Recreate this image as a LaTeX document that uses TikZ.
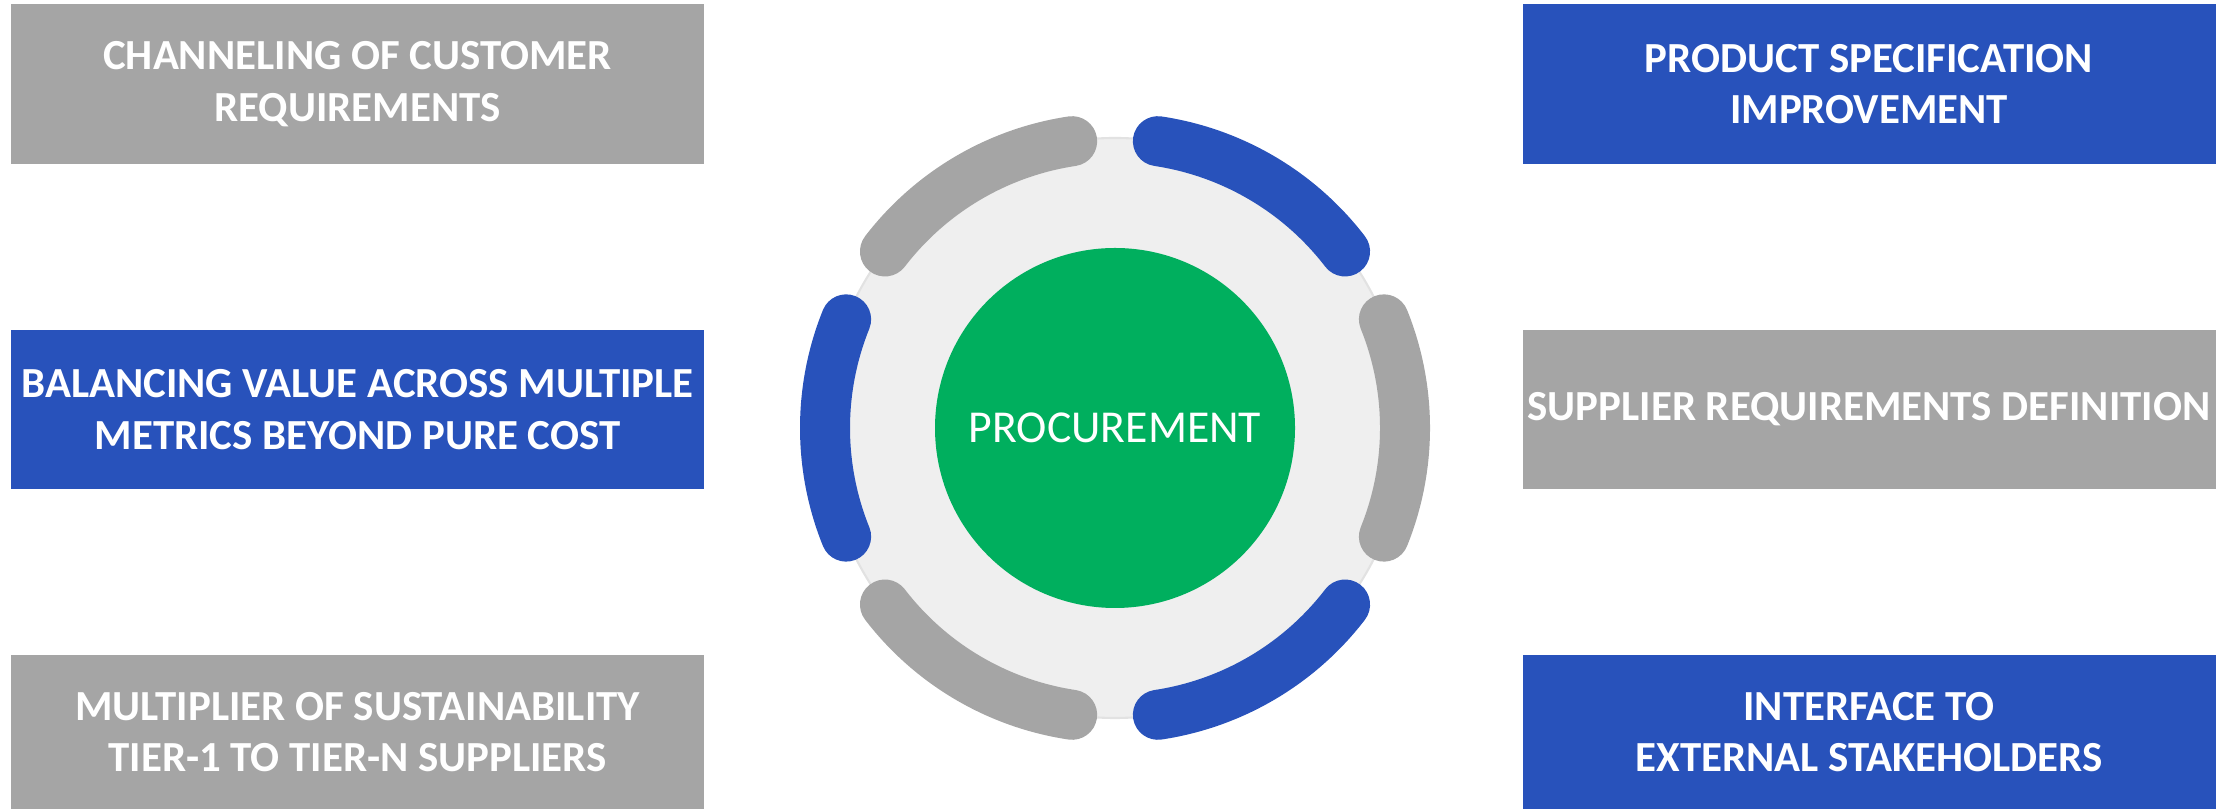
\documentclass[tikz,border=0pt]{standalone}
\usepackage{fontspec}
\setmainfont{Carlito}
\usepackage{tikz}
\usetikzlibrary{positioning}

\definecolor{roleblue}{RGB}{40,82,187}
\definecolor{rolegray}{RGB}{165,165,165}
\definecolor{hubgreen}{RGB}{0,175,94}
\definecolor{ringfill}{RGB}{239,239,239}
\definecolor{ringedge}{RGB}{226,226,226}

\begin{document}
\begin{tikzpicture} [
    rolebox/.style = {rectangle, minimum width=6.93cm, inner sep=0pt, align=center,
        text=white, font=\fontsize{12.2}{14.6}\selectfont\bfseries},
    graybox/.style = {rolebox, fill=rolegray},
    bluebox/.style = {rolebox, fill=roleblue},
    ringarc/.style = {line width=0.5cm, line cap=round}
]
    \useasboundingbox (0,0) rectangle (22.21,8.09);

    % the wheel
    \node (ring) [circle, fill=ringfill, draw=ringedge, line width=0.6pt, minimum size=5.8cm, inner sep=0pt] at (11.15,3.81) {};
    \foreach \mid/\col in {0/rolegray, 59.5/roleblue, 120.5/rolegray, 180/roleblue, 239.5/rolegray, 300.5/roleblue}
        \draw[ringarc, color=\col] (ring.center) ++(\mid-22:2.9) arc[start angle=\mid-22, end angle=\mid+22, radius=2.9];
    \node (hub) [circle, fill=hubgreen, minimum size=3.6cm, inner sep=0pt, text=white,
        font=\fontsize{13}{15}\selectfont] at (ring.center) {PROCUREMENT};

    % left column
    \node (customer) [graybox, minimum height=1.60cm] at (3.575,7.25) {CHANNELING OF CUSTOMER\\REQUIREMENTS};
    \node (value) [bluebox, minimum height=1.59cm] at (3.575,3.995) {BALANCING VALUE ACROSS MULTIPLE\\METRICS BEYOND PURE COST};
    \node (sustain) [graybox, minimum height=1.54cm] at (3.575,0.77) {MULTIPLIER OF SUSTAINABILITY\\TIER-1 TO TIER-N SUPPLIERS};

    % right column
    \node (spec) [bluebox, minimum height=1.60cm] at (18.69,7.25) {PRODUCT SPECIFICATION\\IMPROVEMENT};
    \node (supplier) [graybox, minimum height=1.59cm] at (18.69,3.995) {SUPPLIER REQUIREMENTS DEFINITION};
    \node (stake) [bluebox, minimum height=1.54cm] at (18.69,0.77) {INTERFACE TO\\EXTERNAL STAKEHOLDERS};
\end{tikzpicture}
\end{document}
